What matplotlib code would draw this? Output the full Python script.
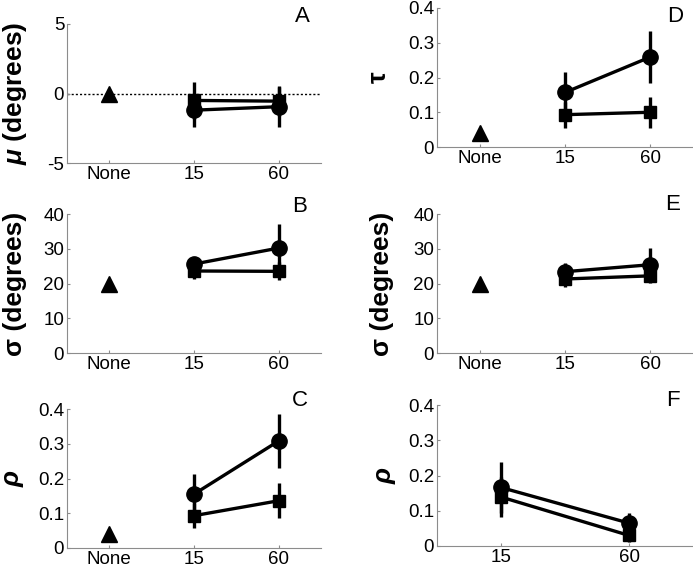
import matplotlib
matplotlib.use("Agg")
import matplotlib.pyplot as plt

plt.rcParams['font.family'] = ['Liberation Sans', 'DejaVu Sans']
plt.rcParams['mathtext.fontset'] = 'custom'
plt.rcParams['mathtext.it'] = 'Liberation Sans:italic:bold'
plt.rcParams['mathtext.rm'] = 'Liberation Sans:bold'

# ---- data ----
x_labels3 = ["None", "15", "60"]
x_labels2 = ["15", "60"]

# Panel A (mu, degrees)
A_none = 0.0
A_circ = [-1.2, -0.95]; A_circ_err = [1.2, 1.45]
A_sq = [-0.5, -0.55]; A_sq_err = [1.3, 1.1]
# Panel B (sigma, degrees)
B_none = 20.0
B_circ = [25.6, 30.2]; B_circ_err = [1.5, 7.0]
B_sq = [23.6, 23.5]; B_sq_err = [2.2, 2.6]
# Panel C (rho)
C_none = 0.04
C_circ = [0.155, 0.308]; C_circ_err = [0.058, 0.077]
C_sq = [0.093, 0.136]; C_sq_err = [0.036, 0.05]
# Panel D (tau)
D_none = 0.04
D_circ = [0.157, 0.259]; D_circ_err = [0.06, 0.075]
D_sq = [0.093, 0.10]; D_sq_err = [0.037, 0.045]
# Panel E (sigma, degrees)
E_none = 20.0
E_circ = [23.4, 25.4]; E_circ_err = [2.4, 4.8]
E_sq = [21.3, 22.2]; E_sq_err = [2.2, 2.1]
# Panel F (rho)
F_circ = [0.166, 0.065]; F_circ_err = [0.073, 0.03]
F_sq = [0.139, 0.03]; F_sq_err = [0.057, 0.02]

W, H = 693, 567
fig = plt.figure(figsize=(W / 100, H / 100), dpi=100)

def mk_ax(x0, y0, x1, y1):
    return fig.add_axes([x0 / W, 1 - y1 / H, (x1 - x0) / W, (y1 - y0) / H])

axA = mk_ax(67, 24, 321, 163)
axB = mk_ax(67, 214, 321, 353)
axC = mk_ax(67, 409, 321, 548)
axD = mk_ax(437, 8, 693, 147)
axE = mk_ax(437, 214, 693, 353)
axF = mk_ax(437, 405, 693, 546)

gray = '#8c8c8c'
LW = 2.4

def style(ax, labels, ylim, yticks, yticklabels, ylabel, lx):
    n = len(labels)
    ax.set_xlim(0.5, n + 0.5)
    ax.set_xticks(range(1, n + 1))
    ax.set_xticklabels(labels)
    ax.set_ylim(*ylim)
    ax.set_yticks(yticks)
    ax.set_yticklabels(yticklabels)
    for s in ['top', 'right']:
        ax.spines[s].set_visible(False)
    for s in ['left', 'bottom']:
        ax.spines[s].set_color(gray)
        ax.spines[s].set_linewidth(0.8)
    ax.tick_params(direction='in', length=2, color=gray, labelsize=13.5, pad=2)
    ax.set_ylabel(ylabel, fontsize=19, fontweight='bold', va='center')
    ax.yaxis.set_label_coords(lx, 0.5)
    ax.patch.set_alpha(0)

def series(ax, xs, vals, errs, marker, ms):
    ax.errorbar(xs, vals, yerr=errs, fmt='-', color='black', lw=LW,
                elinewidth=LW, capsize=0, marker=marker, ms=ms, zorder=3)

def panel(ax, with_none, none_val, circ, circ_err, sq, sq_err):
    if with_none:
        ax.plot([1], [none_val], marker='^', color='black', ms=11, ls='none', zorder=3)
        xs = [2, 3]
    else:
        xs = [1, 2]
    series(ax, xs, circ, circ_err, 'o', 11)
    series(ax, xs, sq, sq_err, 's', 9)

yt04 = [0, 0.1, 0.2, 0.3, 0.4]
yt04l = ['0', '0.1', '0.2', '0.3', '0.4']
yt40 = [0, 10, 20, 30, 40]
yt40l = ['0', '10', '20', '30', '40']

panel(axA, True, A_none, A_circ, A_circ_err, A_sq, A_sq_err)
axA.axhline(0, color='black', lw=1.0, ls=(0, (1.5, 1.5)), zorder=1)
style(axA, x_labels3, (-5, 5), [-5, 0, 5], ['-5', '0', '5'], r'$\mathit{\mu}$ (degrees)', -0.205)

panel(axB, True, B_none, B_circ, B_circ_err, B_sq, B_sq_err)
style(axB, x_labels3, (0, 40), yt40, yt40l, 'σ (degrees)', -0.205)

panel(axC, True, C_none, C_circ, C_circ_err, C_sq, C_sq_err)
style(axC, x_labels3, (0, 0.4), yt04, yt04l, r'$\mathit{\rho}$', -0.21)

panel(axD, True, D_none, D_circ, D_circ_err, D_sq, D_sq_err)
style(axD, x_labels3, (0, 0.4), yt04, yt04l, 'τ', -0.227)

panel(axE, True, E_none, E_circ, E_circ_err, E_sq, E_sq_err)
style(axE, x_labels3, (0, 40), yt40, yt40l, 'σ (degrees)', -0.215)

panel(axF, False, None, F_circ, F_circ_err, F_sq, F_sq_err)
style(axF, x_labels2, (0, 0.4), yt04, yt04l, r'$\mathit{\rho}$', -0.2)

for letter, (px, py) in {'A': (302, 17), 'B': (300, 206), 'C': (300, 401),
                         'D': (675, 17), 'E': (673, 205), 'F': (673, 401)}.items():
    fig.text(px / W, 1 - py / H, letter, fontsize=16, ha='center', va='center')

fig.savefig('out.png', dpi=100)
